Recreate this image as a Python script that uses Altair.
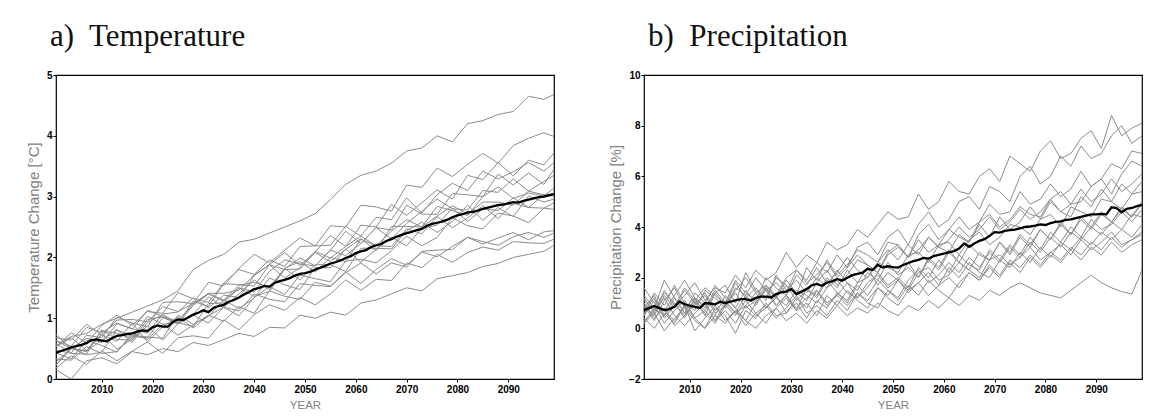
import altair as alt
import pandas as pd

# ---------------- data ----------------
T_YEARS = list(range(2001, 2098, 3)) + [2099]
P_YEARS = list(range(2001, 2100, 2))
MEAN_YEARS = list(range(2001, 2100))

T_OUT = [0.55,0.70,0.75,0.90,1.00,1.10,1.20,1.30,1.45,1.80,1.95,2.05,2.25,2.30,2.40,2.50,2.60,2.72,2.95,3.20,3.35,3.42,3.55,3.75,3.80,4.00,3.90,4.20,4.25,4.35,4.40,4.65,4.60,4.68]
T_A = [0.58,0.43,0.72,0.68,1.02,0.92,0.86,1.26,1.27,1.24,1.59,1.53,1.82,2.05,1.91,2.12,2.32,2.19,2.52,2.50,2.86,2.83,2.76,3.19,3.15,3.47,3.33,3.53,3.71,3.55,3.84,3.96,4.05,3.99]
T_B = [0.48,0.42,0.41,0.81,0.65,0.64,0.98,1.02,0.92,1.28,1.19,1.57,1.55,1.53,1.88,2.08,1.87,2.09,2.36,2.18,2.53,2.50,2.87,2.69,2.90,3.11,2.96,3.35,3.28,3.56,3.34,3.60,3.52,3.72]
T_C = [0.53,0.76,0.59,0.88,1.05,0.88,1.11,1.08,1.42,1.32,1.26,1.58,1.80,1.72,1.96,1.85,2.18,2.19,2.20,2.51,2.35,2.66,2.62,2.98,2.73,3.03,3.22,3.10,3.42,3.29,3.41,3.56,3.42,3.56]
T_D = [0.28,0.51,0.40,0.44,0.81,0.70,0.68,1.01,0.91,1.06,1.35,1.18,1.40,1.63,1.47,1.81,1.99,1.86,2.12,2.03,2.23,2.49,2.30,2.56,2.76,2.96,2.80,2.78,3.10,3.07,3.29,3.09,3.25,3.35]
T_E = [0.73,0.50,0.67,0.60,0.91,0.83,0.75,1.07,1.10,1.34,1.17,1.38,1.34,1.70,1.88,1.66,1.83,2.08,1.93,2.13,2.31,2.11,2.51,2.51,2.50,2.84,2.77,2.69,3.00,3.16,2.97,3.06,3.01,3.14]
T_F = [0.33,0.31,0.53,0.42,0.45,0.72,0.69,0.67,1.05,0.90,1.03,1.30,1.16,1.33,1.66,1.55,1.47,1.83,1.83,2.14,1.92,2.13,2.33,2.19,2.48,2.53,2.81,2.59,2.80,2.77,2.98,2.82,3.03,3.01]
T_G = [0.63,0.54,0.85,0.76,0.92,0.82,1.13,1.03,0.95,1.23,1.40,1.30,1.54,1.59,1.51,1.82,1.93,1.76,2.00,1.93,2.30,2.19,2.18,2.47,2.39,2.67,2.49,2.65,2.85,2.64,2.89,2.82,2.81,2.90]
T_H = [0.23,0.50,0.46,0.74,0.49,0.66,0.87,0.64,0.91,1.05,0.92,1.18,1.04,1.34,1.52,1.39,1.71,1.65,1.60,1.94,1.97,1.91,2.11,2.35,2.19,2.33,2.65,2.52,2.47,2.73,2.68,2.57,2.81,2.79]
T_I = [0.43,0.33,0.64,0.55,0.44,0.75,0.65,0.90,0.72,0.89,1.05,0.95,1.19,1.08,1.45,1.36,1.31,1.59,1.53,1.76,1.57,1.80,1.98,1.87,2.09,2.01,2.18,2.33,2.22,2.32,2.41,2.29,2.42,2.44]
T_J = [0.18,0.38,0.24,0.46,0.30,0.46,0.61,0.42,0.68,0.71,0.67,0.97,0.81,1.06,1.22,1.13,1.34,1.22,1.40,1.63,1.46,1.64,1.62,1.91,1.83,2.05,1.92,2.08,2.17,2.12,2.26,2.24,2.23,2.30]
T_K = [0.15,0.00,0.30,0.35,0.25,0.45,0.40,0.50,0.45,0.60,0.55,0.65,0.75,0.70,0.85,0.84,1.05,1.00,1.10,1.05,1.25,1.30,1.40,1.50,1.45,1.65,1.70,1.75,1.85,1.90,2.00,2.05,2.10,2.20]
T_L = [0.68,0.64,0.90,0.72,0.97,0.98,0.94,1.19,1.11,1.24,1.41,1.41,1.46,1.71,1.88,1.80,1.81,2.10,1.99,2.18,2.35,2.19,2.43,2.62,2.50,2.68,2.85,2.71,2.91,2.91,2.86,3.09,3.03,3.05]
T_N = [0.23,0.51,0.45,0.64,0.81,0.60,0.93,1.06,0.91,1.21,1.40,1.28,1.50,1.43,1.77,1.96,1.89,1.86,2.12,2.43,2.23,2.49,2.45,2.86,2.71,2.71,3.05,3.03,3.00,3.37,3.19,3.39,3.20,3.45]
T_P = [0.63,0.50,0.46,0.79,0.75,0.67,1.03,0.90,0.93,0.86,1.24,1.25,1.50,1.36,1.44,1.82,1.63,1.88,1.88,1.77,2.15,2.15,2.14,2.44,2.58,2.41,2.59,2.86,2.61,2.82,2.67,3.01,2.91,2.96]
T_Q = [0.53,0.68,0.47,0.73,0.62,0.92,0.61,0.86,1.02,0.84,1.04,1.18,1.12,1.40,1.31,1.27,1.57,1.54,1.52,1.75,1.91,1.73,1.91,1.84,2.10,2.12,2.13,2.33,2.26,2.20,2.34,2.41,2.33,2.40]

T_MEAN = [0.43,0.46,0.49,0.52,0.54,0.56,0.59,0.64,0.65,0.63,
          0.62,0.67,0.71,0.72,0.74,0.75,0.78,0.80,0.79,0.85,
          0.88,0.86,0.86,0.94,0.98,0.97,1.01,1.06,1.09,1.13,
          1.10,1.17,1.20,1.22,1.27,1.30,1.34,1.39,1.43,1.48,
          1.50,1.53,1.52,1.58,1.61,1.63,1.66,1.70,1.73,1.74,
          1.76,1.80,1.83,1.86,1.90,1.92,1.95,1.99,2.02,2.07,
          2.10,2.12,2.17,2.20,2.22,2.27,2.30,2.34,2.37,2.40,
          2.42,2.45,2.47,2.52,2.55,2.57,2.59,2.62,2.66,2.69,
          2.71,2.74,2.75,2.77,2.80,2.82,2.84,2.86,2.87,2.89,
          2.91,2.90,2.93,2.95,2.97,2.99,3.00,3.02,3.04]

P_01 = [1.2,0.6,1.5,0.9,1.3,1.8,1.1,1.6,1.4,2.1,1.6,2.3,1.9,2.2,3.0,2.4,2.9,2.6,3.4,3.1,3.3,3.9,3.6,4.1,4.6,4.3,4.4,5.3,4.7,5.0,5.8,5.4,5.3,6.0,6.3,5.8,6.8,6.5,6.2,7.0,7.4,6.7,6.9,7.5,7.8,7.1,8.4,7.6,7.9,8.1]
P_02 = [0.5,1.4,0.9,1.7,1.0,0.7,1.5,1.2,0.8,1.6,1.3,2.0,1.5,1.8,1.4,2.3,1.9,2.6,2.2,2.9,2.4,3.2,3.4,2.9,3.6,3.9,3.3,4.1,4.6,4.0,4.3,5.0,5.2,4.7,5.6,5.4,5.0,6.0,6.4,5.7,6.0,6.8,6.4,7.2,6.7,6.9,7.6,8.0,7.3,7.6]
P_03 = [0.9,0.3,1.1,1.6,0.8,1.2,0.5,1.4,1.7,1.0,2.2,1.5,1.2,2.0,1.7,1.3,2.4,1.9,2.7,2.1,2.5,3.1,2.9,2.6,3.4,3.3,2.8,3.7,4.1,3.5,3.9,4.4,3.9,4.2,4.9,4.5,4.6,5.4,4.9,5.1,5.7,5.2,5.5,6.2,5.6,5.9,6.5,6.3,7.0,6.9]
P_04 = [0.2,0.8,0.5,1.2,0.6,0.9,1.4,0.7,1.1,0.6,1.3,0.9,1.6,1.2,1.9,1.4,1.1,1.8,2.3,1.7,2.1,2.7,2.5,2.2,2.9,3.2,2.8,3.5,3.0,3.3,3.9,3.6,3.4,4.2,4.5,4.0,4.3,4.8,4.5,4.4,5.1,5.4,4.9,5.0,5.6,5.9,5.3,6.1,6.6,6.4]
P_05 = [1.6,1.0,0.7,1.3,1.9,1.2,0.8,1.5,1.0,1.9,1.4,1.1,2.0,1.6,1.3,2.1,1.7,2.4,1.8,2.2,2.8,2.3,2.0,2.6,3.1,2.7,3.3,2.9,3.6,3.2,3.0,3.7,3.4,4.1,3.6,4.4,3.9,4.2,4.8,4.3,5.0,4.6,4.4,5.2,4.8,5.5,5.0,5.7,5.3,5.8]
P_06 = [0.4,0.0,0.6,0.2,0.9,0.4,0.7,0.3,1.0,0.6,0.9,1.4,0.8,1.2,1.7,1.1,1.5,1.3,2.0,1.6,2.3,1.8,2.0,2.6,2.4,2.2,2.9,3.0,2.6,3.3,3.4,2.9,3.5,3.8,3.3,3.6,4.1,4.0,3.7,4.3,4.5,4.0,4.8,4.6,4.4,5.1,5.0,4.7,5.3,5.4]
P_07 = [0.8,1.3,0.5,1.0,0.4,1.2,0.9,0.5,1.3,0.8,0.3,1.0,1.5,0.9,1.3,0.7,1.6,1.2,1.9,1.4,1.1,1.8,2.4,1.7,2.2,1.9,2.6,2.0,2.8,2.4,3.1,2.6,2.3,3.0,2.7,3.4,2.9,3.6,3.2,3.9,3.5,4.2,3.7,4.4,4.0,4.6,4.2,4.8,4.4,5.0]
P_08 = [0.6,0.9,0.2,0.7,1.1,0.4,0.0,0.8,0.5,-0.2,0.7,0.4,1.0,0.5,0.6,1.2,0.8,1.5,0.9,1.3,1.8,1.2,1.6,2.2,1.7,2.0,1.6,2.4,2.0,2.7,2.2,2.9,2.5,2.3,3.1,2.7,3.3,2.9,3.6,3.1,3.8,3.4,4.0,3.6,4.3,3.9,4.1,4.6,4.2,4.7]
P_09 = [0.3,0.7,1.2,0.5,0.1,0.6,1.0,0.3,0.7,0.2,0.9,0.5,0.8,1.3,0.6,1.0,0.4,1.1,0.8,1.4,1.0,1.7,1.3,1.9,1.5,1.2,1.9,2.3,1.8,2.1,2.6,2.2,2.8,2.4,3.0,2.6,3.2,2.8,3.4,3.0,3.6,3.2,3.8,3.5,4.0,3.7,4.2,3.9,4.5,4.4]
P_10 = [1.0,0.4,0.8,0.1,0.5,1.0,0.6,0.2,0.9,0.5,1.1,0.6,0.2,0.8,1.2,0.7,1.0,0.5,1.3,0.9,1.5,1.1,0.8,1.6,1.3,1.9,1.4,1.8,2.2,1.7,2.4,2.0,2.6,2.2,2.0,2.7,2.4,3.0,2.6,3.2,2.8,3.4,3.1,3.6,3.3,3.8,3.5,3.9,3.6,4.1]
P_11 = [0.5,1.1,0.7,0.3,0.9,-0.1,0.4,0.9,0.3,0.7,0.1,0.6,0.9,0.4,0.8,1.3,0.6,0.9,0.5,1.1,0.7,1.4,1.0,0.8,1.5,1.1,1.7,1.3,1.9,1.5,1.2,1.8,2.2,1.9,2.5,2.1,2.7,2.4,2.9,2.5,3.0,2.7,3.2,2.9,3.4,3.1,3.6,3.2,3.5,3.8]
P_12 = [1.3,0.8,1.9,1.2,0.6,1.4,1.0,1.7,1.2,0.8,1.5,1.0,1.6,0.9,1.3,0.8,1.2,1.5,1.0,1.3,0.9,1.4,1.1,1.6,1.2,0.9,1.5,1.8,1.3,1.7,2.0,1.6,2.2,1.9,2.4,2.0,2.6,2.2,2.8,2.4,2.9,2.6,3.1,2.7,3.2,2.9,3.4,3.0,3.3,3.5]
P_13 = [0.2,0.6,-0.1,0.4,0.8,0.3,0.0,0.5,0.2,0.7,0.3,0.0,0.5,0.8,0.3,0.6,0.2,0.7,0.4,0.9,0.5,0.8,0.6,1.0,0.7,0.5,0.9,0.7,1.1,0.8,1.2,0.9,1.3,1.1,1.5,1.3,1.6,1.8,1.6,1.4,1.3,1.2,1.5,1.8,2.1,1.8,1.6,1.45,1.35,2.3]
P_14 = [0.9,0.5,1.3,0.8,1.6,1.1,0.7,1.4,0.9,1.8,1.2,1.6,1.1,2.1,1.5,1.9,1.4,2.0,1.6,2.3,1.8,1.5,2.2,1.9,2.6,2.1,2.4,2.0,2.7,2.3,3.0,2.6,3.3,2.9,2.7,3.4,3.0,3.7,3.3,3.9,3.5,4.1,3.7,4.3,3.9,4.5,4.2,4.7,4.4,4.9]
P_15 = [0.7,1.2,0.4,0.9,1.5,1.0,1.3,0.6,0.9,1.4,0.8,1.1,1.7,1.2,0.9,1.5,1.3,1.0,1.6,1.9,1.4,1.2,1.8,2.1,1.6,1.9,1.5,2.2,2.4,1.9,2.1,2.6,2.3,2.0,2.7,2.9,2.5,2.8,3.2,2.7,3.0,3.3,2.9,3.5,3.1,3.4,3.8,3.3,3.5,3.7]
P_16 = [1.1,0.7,1.4,1.0,0.5,1.1,1.6,1.3,0.9,1.5,2.0,1.4,1.7,1.3,2.0,2.3,1.8,2.1,2.6,2.0,2.4,2.9,2.5,2.2,3.0,3.3,2.8,3.1,3.6,3.2,3.5,4.0,3.6,3.9,4.4,3.9,4.2,4.7,4.3,4.6,5.1,4.6,4.9,5.5,5.0,5.3,5.9,5.4,5.7,6.1]

P_MEAN = [0.72,0.80,0.88,0.80,0.72,0.76,0.85,1.05,0.95,0.90,
          0.85,0.80,1.00,0.98,0.95,1.05,1.00,1.05,1.10,1.15,
          1.15,1.10,1.20,1.25,1.25,1.22,1.35,1.42,1.45,1.55,
          1.35,1.45,1.55,1.70,1.75,1.68,1.80,1.85,1.95,1.88,
          2.00,2.10,2.15,2.20,2.35,2.30,2.50,2.40,2.45,2.42,
          2.40,2.50,2.58,2.65,2.70,2.78,2.75,2.85,2.90,2.95,
          3.00,3.05,3.15,3.35,3.22,3.35,3.45,3.52,3.65,3.80,
          3.78,3.85,3.88,3.90,3.95,4.00,4.02,4.05,4.10,4.08,
          4.15,4.20,4.22,4.28,4.30,4.35,4.40,4.45,4.50,4.50,
          4.52,4.50,4.78,4.75,4.58,4.72,4.75,4.82,4.87]

T_MEMBERS = {"out": T_OUT, "A": T_A, "B": T_B, "C": T_C, "D": T_D, "E": T_E, "F": T_F,
             "G": T_G, "H": T_H, "I": T_I, "J": T_J, "K": T_K, "L": T_L, "N": T_N,
             "P": T_P, "Q": T_Q}
P_MEMBERS = {"01": P_01, "02": P_02, "03": P_03, "04": P_04, "05": P_05, "06": P_06,
             "07": P_07, "08": P_08, "09": P_09, "10": P_10, "11": P_11, "12": P_12,
             "13": P_13, "14": P_14, "15": P_15, "16": P_16}

X_TICKS = [2010, 2020, 2030, 2040, 2050, 2060, 2070, 2080, 2090]
T_TICKS = [0, 1, 2, 3, 4, 5]
P_TICKS = [-2, 0, 2, 4, 6, 8, 10]


def members_df(years, members):
    rows = []
    for name, vals in members.items():
        for yr, v in zip(years, vals):
            rows.append({"year": yr, "value": v, "member": name})
    return pd.DataFrame(rows)


def panel(members, years, mean, ydomain, yticks, ytitle, title, title_dx):
    gdf = members_df(years, members)
    mdf = pd.DataFrame({"year": MEAN_YEARS, "value": mean})
    x = alt.X("year:Q",
              scale=alt.Scale(domain=[2001, 2099], nice=False, zero=False),
              axis=alt.Axis(values=X_TICKS, format="d", title="YEAR",
                            titleFontSize=11.5, titlePadding=5, labelPadding=2))
    y = alt.Y("value:Q",
              scale=alt.Scale(domain=ydomain, nice=False, zero=False),
              axis=alt.Axis(values=yticks, format="d", title=ytitle, titleFontSize=15,
                            titlePadding=5, labelPadding=1))
    gray = alt.Chart(gdf).mark_line(color="#8c8c8c", strokeWidth=1).encode(
        x=x, y=y, detail="member:N")
    black = alt.Chart(mdf).mark_line(color="black", strokeWidth=2.3).encode(
        x="year:Q", y="value:Q")
    return alt.layer(gray, black).properties(
        width=498, height=304,
        title=alt.TitleParams(text=title, anchor="start", frame="group",
                              font="Liberation Serif", fontSize=31,
                              fontWeight="normal", color="#111111",
                              baseline="alphabetic", offset=-7, dx=title_dx))


left = panel(T_MEMBERS, T_YEARS, T_MEAN, [0, 5], T_TICKS,
             "Temperature Change [°C]", "a)\u00a0 Temperature", -6)
right = panel(P_MEMBERS, P_YEARS, P_MEAN, [-2, 10], P_TICKS,
              "Precipitation Change [%]", "b)\u00a0 Precipitation", 4)

chart = alt.hconcat(left, right, spacing=90, bounds="flush").properties(
    padding={"left": 17, "top": 12, "right": 5, "bottom": 5}
).configure(background="white").configure_view(
    stroke="black", strokeWidth=1.2
).configure_axis(
    grid=False, domain=False,
    labelFont="Liberation Sans", labelFontWeight="bold", labelFontSize=10,
    labelColor="black", tickColor="black", tickSize=3, tickWidth=1,
    titleFont="Liberation Sans", titleFontWeight="normal", titleColor="#808080"
)

chart.save("out.html", embed_options={"renderer": "svg", "actions": False})
